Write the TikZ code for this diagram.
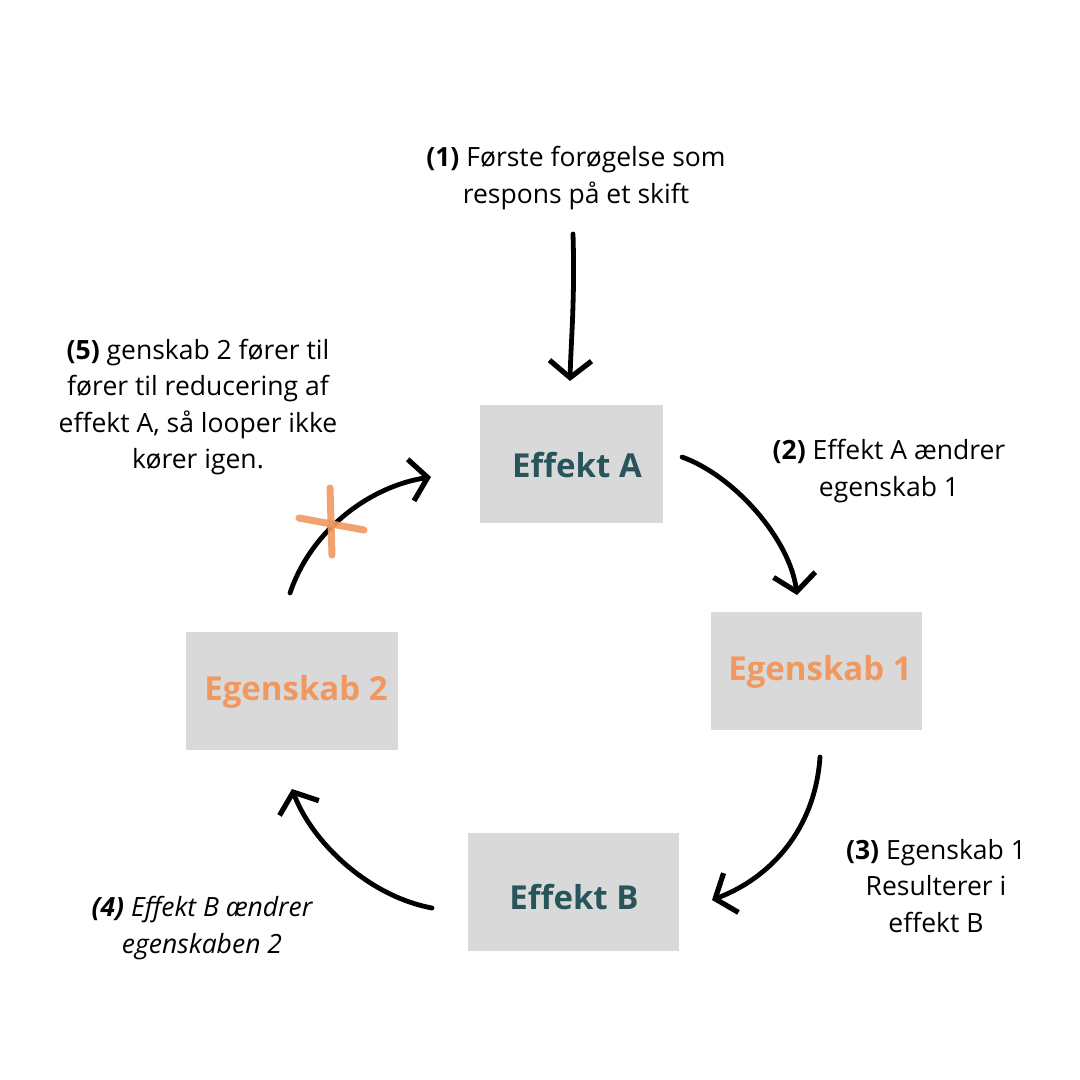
\documentclass[tikz,border=0pt]{standalone}
\usepackage{fontspec}
\setmainfont{Open Sans}
\usetikzlibrary{arrows.meta}
\definecolor{boxgrey}{HTML}{D9D9D9}
\definecolor{tealtxt}{HTML}{27555A}
\definecolor{orangetxt}{HTML}{F0985F}
\tikzset{
  box/.style={fill=boxgrey, draw=none, minimum width=#1, minimum height=118pt, inner sep=0pt},
  boxlabel/.style={font=\fontsize{33}{40}\selectfont\bfseries},
  note/.style={align=center, inner sep=0pt, font=\fontsize{26.5}{36.5}\selectfont},
  brush/.style={line width=4.8pt, line cap=round, black,
    -{Straight Barb[length=17pt,width=42pt,line width=5.2pt]}},
  cross/.style={orangetxt, line width=7pt, line cap=round, opacity=0.9}
}
\begin{document}
\begin{tikzpicture}[x=1pt,y=-1pt]
\fill[white] (0,0) rectangle (1080,1080);
\useasboundingbox (0,0) rectangle (1080,1080);

% boxes
\node[box=183pt] (ea) at (571.5,463.5) {};
\node[box=211pt] (e1) at (816.5,671) {};
\node[box=211pt] (eb) at (573.5,892) {};
\node[box=212pt] (e2) at (292,691) {};
\node[boxlabel, text=tealtxt] (eal) at (577,465) {Effekt A};
\node[boxlabel, text=orangetxt] (e1l) at (820,672) {Egenskab 1};
\node[boxlabel, text=tealtxt] (ebl) at (574,897) {Effekt B};
\node[boxlabel, text=orangetxt] (e2l) at (296,692) {Egenskab 2};

% notes
\node[note] (n1) at (576,178) {\textbf{(1)} Første forøgelse som\\respons på et skift};
\node[note] (n2) at (889,471) {\textbf{(2)} Effekt A ændrer\\egenskab 1};
\node[note] (n3) at (936,886) {\textbf{(3)} Egenskab 1\\Resulterer i\\effekt B};
\node[note, font=\fontsize{26.5}{36.5}\selectfont\itshape] (n4) at (202,928) {\textbf{(4)} Effekt B ændrer\\egenskaben 2};
\node[note] (n5) at (198,407) {\textbf{(5)} genskab 2 fører til\\fører til reducering af\\effekt A, så looper ikke\\kører igen.};

% arrow end points
\coordinate (a1s) at (573,234);
\coordinate (a1e) at (570,381);
\coordinate (a2s) at (682,457);
\coordinate (a2e) at (797,595);
\coordinate (a3s) at (820,757);
\coordinate (a3e) at (712,900);
\coordinate (a4s) at (432,908);
\coordinate (a4e) at (292,789);
\coordinate (a5s) at (290,593);
\coordinate (a5e) at (431,477);

\draw[brush] (a1s) .. controls (575,300) and (571,340) .. (a1e);
\draw[brush] (a2s) .. controls (735,476) and (790,540) .. (a2e);
\draw[brush] (a3s) .. controls (815,830) and (770,878) .. (a3e);
\draw[brush] (a4s) .. controls (368,896) and (312,842) .. (a4e);
\draw[brush] (a5s) .. controls (312,528) and (372,486) .. (a5e);

% orange cross
\coordinate (xv1) at (330,488);
\coordinate (xv2) at (332,555);
\coordinate (xh1) at (299,518);
\coordinate (xh2) at (364,530);
\draw[cross] (xv1) -- (xv2);
\draw[cross] (xh1) -- (xh2);
\end{tikzpicture}
\end{document}
